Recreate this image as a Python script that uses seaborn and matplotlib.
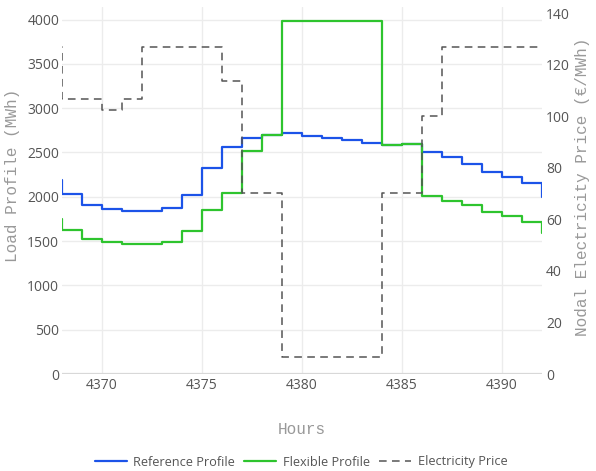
import matplotlib
matplotlib.use("Agg")
import matplotlib.pyplot as plt
import seaborn as sns
import pandas as pd

# Hourly series (value holds from each hour until the next one)
hours = list(range(4367, 4393))
reference_profile = [2190, 2030, 1910, 1860, 1835, 1838, 1870, 2020, 2320, 2560,
                     2665, 2700, 2715, 2685, 2665, 2640, 2610, 2590, 2595, 2510,
                     2445, 2375, 2285, 2225, 2155, 2000]
flexible_profile = [1750, 1620, 1525, 1490, 1465, 1468, 1490, 1615, 1850, 2045,
                    2515, 2700, 3980, 3980, 3980, 3980, 3980, 2590, 2600, 2010,
                    1950, 1905, 1830, 1780, 1720, 1590]
electricity_price = [126.8, 106.6, 106.6, 102.5, 106.6, 126.8, 126.8, 126.8, 126.8, 113.8,
                     70.4, 70.4, 6.5, 6.5, 6.5, 6.5, 6.5, 70.4, 70.4, 100.2,
                     126.8, 126.8, 126.8, 126.8, 126.8, 126.8]

x_ticks = [4370, 4375, 4380, 4385, 4390]
load_ticks = [0, 500, 1000, 1500, 2000, 2500, 3000, 3500, 4000]
price_ticks = [0, 20, 40, 60, 80, 100, 120, 140]

df = pd.DataFrame({
    "Hour": hours,
    "Reference Profile": reference_profile,
    "Flexible Profile": flexible_profile,
    "Electricity Price": electricity_price,
})

sns.set_style("white")
plt.rcParams["font.family"] = ["Open Sans", "DejaVu Sans"]

tick_color = "#555555"
title_color = "#999999"
grid_color = "#ececec"
blue = "#1c53e8"
green = "#2ec42e"

fig = plt.figure(figsize=(5.96, 4.71), dpi=100)
ax = fig.add_axes([62 / 596, 97 / 471, 480 / 596, 367 / 471])
ax2 = ax.twinx()

sns.lineplot(data=df, x="Hour", y="Reference Profile", ax=ax, color=blue,
             lw=1.6, drawstyle="steps-post", label="Reference Profile", legend=False)
sns.lineplot(data=df, x="Hour", y="Flexible Profile", ax=ax, color=green,
             lw=1.6, drawstyle="steps-post", label="Flexible Profile", legend=False)
sns.lineplot(data=df, x="Hour", y="Electricity Price", ax=ax2, color="#555555",
             lw=1.1, drawstyle="steps-post", linestyle=(0, (5, 3.5)),
             label="Electricity Price", legend=False)

ax.set_xlim(4368, 4392)
ax.set_ylim(0, 4142)
ax2.set_ylim(0, 142.5)
ax.set_xticks(x_ticks)
ax.set_yticks(load_ticks)
ax2.set_yticks(price_ticks)

ax.grid(True, color=grid_color, lw=1.0)
ax.set_axisbelow(True)
ax2.grid(False)
ax.axhline(0, color="#d8d8d8", lw=1.6, zorder=1)

for a in (ax, ax2):
    for s in a.spines.values():
        s.set_visible(False)
    a.tick_params(length=0, labelsize=10, labelcolor=tick_color)
ax.tick_params(axis="y", pad=2)
ax.tick_params(axis="x", pad=3)
ax2.tick_params(axis="y", pad=3)

mono = ["Liberation Mono", "DejaVu Sans Mono"]
ax.set_xlabel("Hours", family=mono, fontsize=11.5, color=title_color)
ax.set_ylabel("Load Profile (MWh)", family=mono, fontsize=11.5, color=title_color)
ax2.set_ylabel("Nodal Electricity Price (€/MWh)", family=mono, fontsize=11.5,
               color=title_color)
ax.xaxis.set_label_coords(0.5, (374 - 429) / 367)
ax.xaxis.label.set_va("center")
ax.yaxis.set_label_coords((13 - 62) / 480, 0.54)
ax.yaxis.label.set_va("center")
ax2.yaxis.set_label_coords((583 - 62) / 480, 0.51)
ax2.yaxis.label.set_va("center")

h1, l1 = ax.get_legend_handles_labels()
h2, l2 = ax2.get_legend_handles_labels()
leg = fig.legend(h1 + h2, l1 + l2, loc="center", bbox_to_anchor=(301 / 596, 1 - 462 / 471),
                 ncol=3, frameon=False, fontsize=9.2, handlelength=2.5,
                 handletextpad=0.5, columnspacing=0.75, labelcolor=tick_color)

fig.savefig("out.png", dpi=100)
